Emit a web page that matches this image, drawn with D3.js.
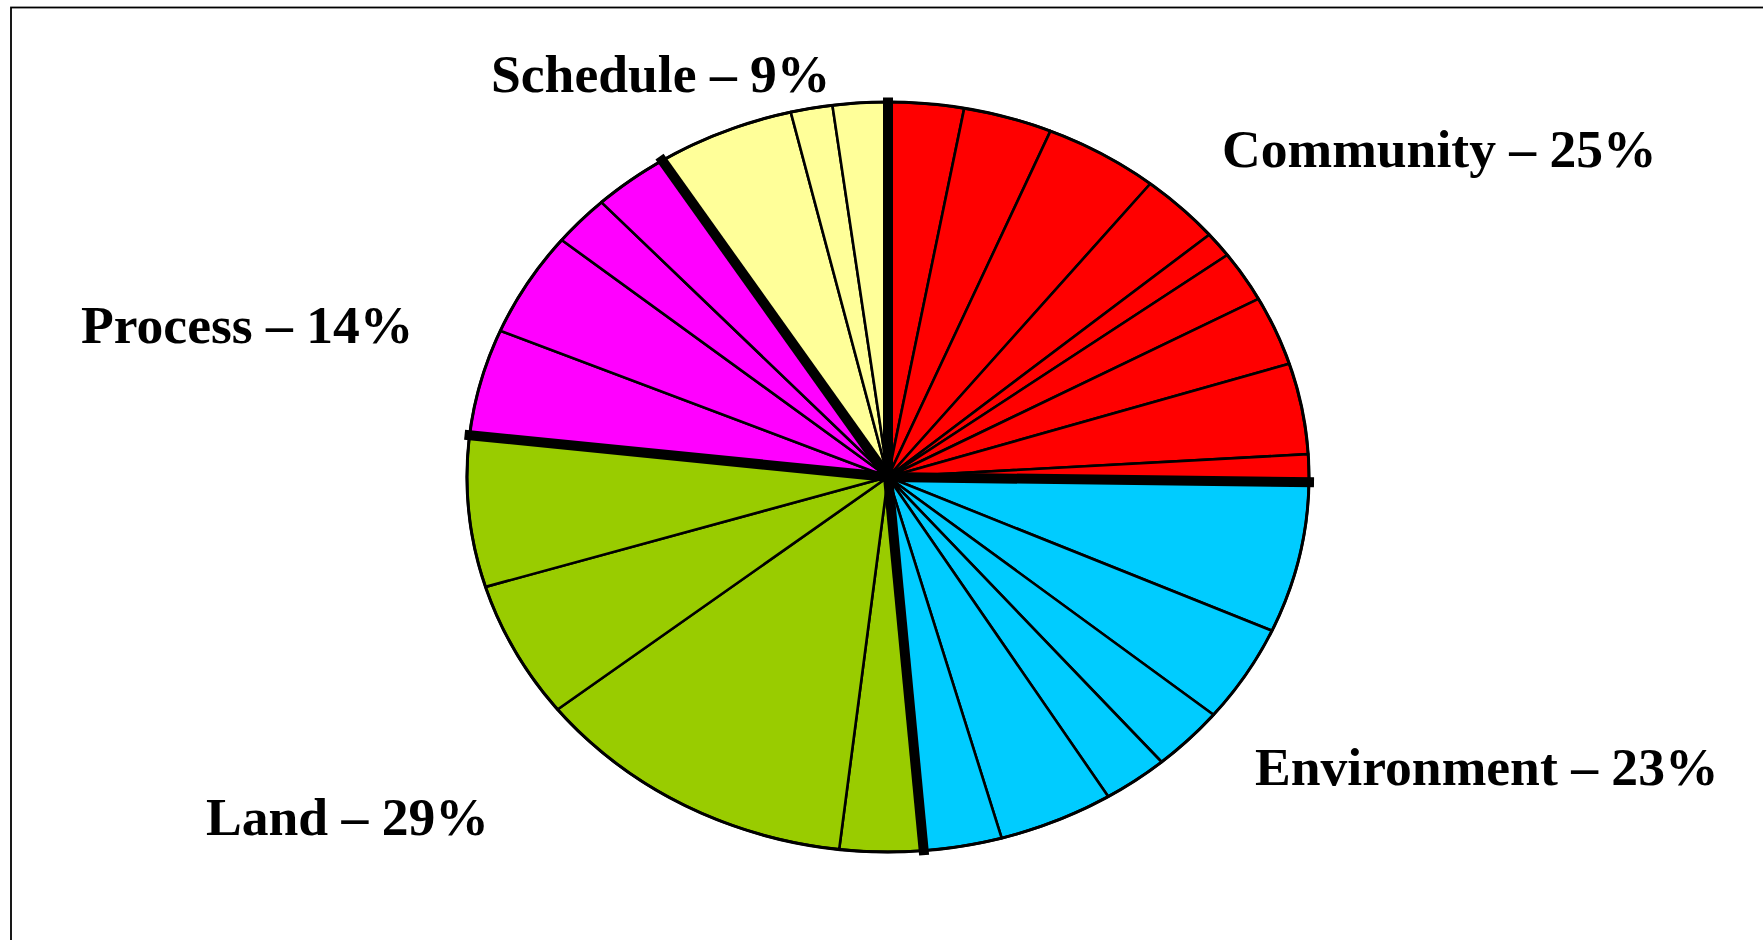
<!DOCTYPE html>
<html>
<head>
<meta charset="utf-8">
<script src="https://cdn.jsdelivr.net/npm/d3@7"></script>
<style>
  html, body { margin: 0; padding: 0; background: #fff; }
  svg { display: block; }
  text { font-family: "Liberation Serif", "Times New Roman", serif; font-weight: bold; }
</style>
</head>
<body>
<svg id="chart" width="1763" height="940"></svg>
<script>
// ---- data ----
const categories = ["Community", "Environment", "Land", "Process", "Schedule"];
const categoryPercents = [25, 23, 29, 14, 9];
const categoryColors = ["#FF0000", "#00CCFF", "#99CC00", "#FF00FF", "#FFFF99"];
const communitySlices = [2.9, 3.4, 4.4, 3.1, 1.1, 2.2, 3.0, 3.9, 1.2];
const environmentSlices = [6.5, 4.2, 2.8, 2.5, 4.4, 3.0];
const landSlices = [3.2, 12.5, 5.9, 6.5];
const processSlices = [4.6, 4.5, 2.2, 2.9];
const scheduleSlices = [5.3, 1.6, 2.1];
const sliceGroups = [communitySlices, environmentSlices, landSlices, processSlices, scheduleSlices];

// ---- layout ----
const W = 1763, H = 940;
const cx = 888, cy = 477, rx = 421, ry = 375;
const labelPos = {
  Community:   [1222, 167],
  Environment: [1255, 785],
  Land:        [206, 835],
  Process:     [81, 343],
  Schedule:    [491, 92]
};

const svg = d3.select("#chart");
svg.append("rect").attr("width", W).attr("height", H).attr("fill", "#fff");

// frame (extends beyond right/bottom of view)
svg.append("rect")
  .attr("x", 11).attr("y", 7.5).attr("width", W + 50).attr("height", H + 50)
  .attr("fill", "none").attr("stroke", "#000").attr("stroke-width", 1.8);

// flatten slices
const slices = [];
sliceGroups.forEach((g, ci) => g.forEach(v => slices.push({ cat: ci, value: v })));

const pie = d3.pie().sort(null).value(d => d.value).startAngle(0).endAngle(2 * Math.PI);
const arcs = pie(slices);
const arc = d3.arc().innerRadius(0).outerRadius(1);

const g = svg.append("g").attr("transform", `translate(${cx},${cy}) scale(${rx},${ry})`);

g.selectAll("path.slice")
  .data(arcs)
  .join("path")
  .attr("class", "slice")
  .attr("d", arc)
  .attr("fill", d => categoryColors[d.data.cat])
  .attr("stroke", "#000")
  .attr("stroke-width", 2.6)
  .attr("stroke-linejoin", "round")
  .attr("vector-effect", "non-scaling-stroke");

// rim outline
g.append("ellipse")
  .attr("cx", 0).attr("cy", 0).attr("rx", 1).attr("ry", 1)
  .attr("fill", "none").attr("stroke", "#000").attr("stroke-width", 3)
  .attr("vector-effect", "non-scaling-stroke");

// thick category separators
const boundaries = [];
arcs.forEach((a, i) => {
  if (i === 0 || arcs[i - 1].data.cat !== a.data.cat) boundaries.push(a.startAngle);
});
const ext = 1.012;
svg.append("g").selectAll("line.sep")
  .data(boundaries)
  .join("line")
  .attr("class", "sep")
  .attr("x1", cx).attr("y1", cy)
  .attr("x2", a => cx + rx * ext * Math.sin(a))
  .attr("y2", a => cy - ry * ext * Math.cos(a))
  .attr("stroke", "#000")
  .attr("stroke-width", 10);

// labels
svg.append("g").selectAll("text.lbl")
  .data(categories)
  .join("text")
  .attr("class", "lbl")
  .attr("x", (c) => labelPos[c][0])
  .attr("y", (c) => labelPos[c][1])
  .attr("font-size", 53.6)
  .attr("fill", "#000")
  .text((c, i) => `${c} \u2013 ${categoryPercents[i]}%`);
</script>
</body>
</html>
